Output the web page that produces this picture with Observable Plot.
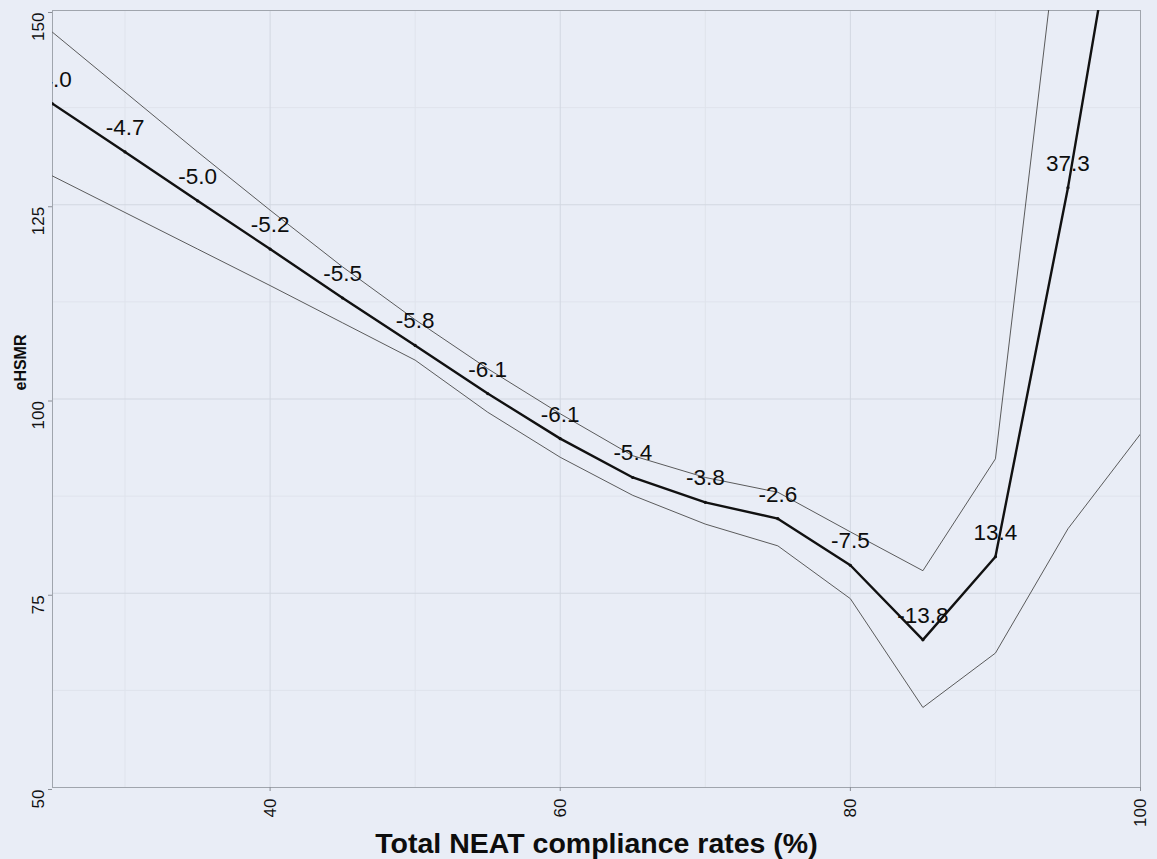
<!DOCTYPE html>
<html><head><meta charset="utf-8">
<script src="https://cdn.jsdelivr.net/npm/d3@7"></script>
<script src="https://cdn.jsdelivr.net/npm/@observablehq/plot@0.6"></script>
<style>
html,body{margin:0;padding:0;background:#e9edf6;}
#chart svg{display:block;}
</style></head><body><div id="chart"></div>
<script>
const compliance = [25, 30, 35, 40, 45, 50, 55, 60, 65, 70, 75, 80, 85, 90, 95, 100];
const eHSMR      = [138.0, 131.8, 125.5, 119.3, 113.0, 106.9, 100.7, 94.9, 89.9, 86.7, 84.6, 78.6, 69.0, 79.7, 127.2, 182.0];
const upperCI    = [147.2, 139.5, 131.8, 124.3, 117.0, 110.2, 103.9, 98.1, 92.7, 89.9, 88.0, 82.9, 77.9, 92.3, 171.0, 250.0];
const lowerCI    = [128.7, 124.0, 119.3, 114.6, 109.8, 105.0, 98.3, 92.5, 87.6, 83.9, 81.1, 74.3, 60.3, 67.3, 83.3, 95.5];
const changeLabels = ["-4.0", "-4.7", "-5.0", "-5.2", "-5.5", "-5.8", "-6.1", "-6.1", "-5.4", "-3.8", "-2.6", "-7.5", "-13.8", "13.4", "37.3", ""];
const xTicks = [40, 60, 80, 100];
const xMinorTicks = [30, 50, 70, 90];
const yTicks = [50, 75, 100, 125, 150];
const yMinorTicks = [62.5, 87.5, 112.5, 137.5];
const xTitle = "Total NEAT compliance rates (%)";
const yTitle = "eHSMR";

const rows = compliance.map((x, i) => ({x, y: eHSMR[i], hi: upperCI[i], lo: lowerCI[i], label: changeLabels[i]}));

const chart = Plot.plot({
  width: 1157, height: 859,
  marginLeft: 52, marginRight: 17, marginTop: 10, marginBottom: 72,
  style: {background: "#e9edf6", fontFamily: "'Liberation Sans', Arial, sans-serif", color: "#111"},
  x: {domain: [25, 100]},
  y: {domain: [50, 150]},
  marks: [
    Plot.ruleX(xMinorTicks, {stroke: "#dfe3ec", strokeWidth: 1}),
    Plot.ruleY(yMinorTicks, {stroke: "#dfe3ec", strokeWidth: 1}),
    Plot.ruleX(xTicks, {stroke: "#d2d7e1", strokeWidth: 1}),
    Plot.ruleY(yTicks, {stroke: "#d2d7e1", strokeWidth: 1}),
    Plot.frame({stroke: "#a0a5ad"}),
    Plot.line(rows, {x: "x", y: "hi", stroke: "#4a4a4a", strokeWidth: 0.9, clip: true}),
    Plot.line(rows, {x: "x", y: "lo", stroke: "#4a4a4a", strokeWidth: 0.9, clip: true}),
    Plot.line(rows, {x: "x", y: "y", stroke: "#111", strokeWidth: 2.4, clip: true}),
    Plot.dot(rows, {x: "x", y: "y", r: 1.6, fill: "#111", clip: true}),
    Plot.text(rows, {x: "x", y: "y", text: "label", dy: -17, lineAnchor: "bottom", fontSize: 22.5, fill: "#0d0d0d", clip: true}),
    Plot.axisX(xTicks, {tickSize: 4, tickRotate: -90, textAnchor: "end", lineAnchor: "middle", tickPadding: 7, fontSize: 17, label: null, stroke: "#8a8e96", fill: "#111"}),
    Plot.axisY(yTicks, {tickSize: 4, tickRotate: -90, textAnchor: "end", lineAnchor: "bottom", tickPadding: 4.5, dy: 2, fontSize: 17, label: null, stroke: "#8a8e96", fill: "#111"}),
    Plot.text([xTitle], {frameAnchor: "bottom", dy: 65, lineAnchor: "bottom", fontSize: 28.5, fontWeight: "bold", fill: "#0d0d0d"}),
    Plot.text([yTitle], {frameAnchor: "left", rotate: -90, dx: -27, dy: -8.5, lineAnchor: "bottom", fontSize: 16, fontWeight: "bold", fill: "#0d0d0d"})
  ]
});
document.getElementById("chart").append(chart);
</script>
</body></html>
